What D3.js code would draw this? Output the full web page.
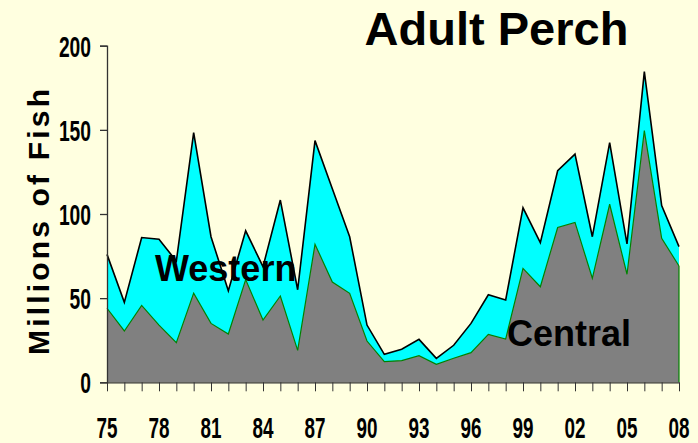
<!DOCTYPE html>
<html>
<head>
<meta charset="utf-8">
<script src="https://cdn.jsdelivr.net/npm/d3@7"></script>
<style>
  body { margin:0; background:#FFFFE0; }
  svg { display:block; }
  .num { font-family:"Liberation Sans Narrow","Arial Narrow",sans-serif; font-weight:bold; font-size:30px; fill:#000; }
  .big { font-family:"Liberation Sans",Arial,sans-serif; font-weight:bold; fill:#000; }
</style>
</head>
<body>
<div id="chart"></div>
<script>
// years 1975..2008
var years = d3.range(1975, 2009);
// millions of fish
var central = [44,30.5,45.7,34,23.5,53,35,28.7,61,37,51.3,19,82,59.6,52.9,24.5,12.3,12.9,15.8,10.7,14.3,17.6,28.5,25.7,67.7,56.8,92,95,61.8,105.8,64.2,149.5,85.6,69.1];
var western = [32,17,40.3,51,48.5,95.3,51.5,25.7,29,31.7,57,36,61.6,55.4,33.6,9.5,4.3,6.7,9.7,3.5,7.7,17.4,23.5,23.2,36,26.2,33.7,40.6,24.7,36.6,18,35.1,19.4,11.5];
var yTicks = [0,50,100,150,200];
var xLabelYears = d3.range(1975, 2009, 3);

var W = 698, H = 443;
var svg = d3.select("#chart").append("svg")
  .attr("width", W).attr("height", H);
svg.append("rect").attr("width", W).attr("height", H).attr("fill", "#FFFFE0");

var x = d3.scaleLinear().domain([1975, 2008]).range([107, 679]);
var y = d3.scaleLinear().domain([0, 200]).range([382.3, 45.7]);

var rows = years.map(function(yr, i){ return {year:yr, central:central[i], western:western[i]}; });
var stack = d3.stack().keys(["central","western"])(rows);

var area = d3.area()
  .x(function(d){ return x(d.data.year); })
  .y0(function(d){ return y(d[0]); })
  .y1(function(d){ return y(d[1]); });
var topLine = d3.line()
  .x(function(d){ return x(d.data.year); })
  .y(function(d){ return y(d[1]); });

var g = svg.append("g");
g.append("path").datum(stack[1]).attr("d", area).attr("fill", "#00FFFF");
g.append("path").datum(stack[0]).attr("d", area).attr("fill", "#808080");
g.append("path").datum(stack[0]).attr("d", topLine).attr("fill", "none")
  .attr("stroke", "#008000").attr("stroke-width", 1.2);
g.append("line").attr("x1", x(2008)).attr("x2", x(2008))
  .attr("y1", y(0)).attr("y2", y(central[central.length-1]))
  .attr("stroke", "#008000").attr("stroke-width", 1.2);
g.append("path").datum(stack[1]).attr("d", topLine).attr("fill", "none")
  .attr("stroke", "#000").attr("stroke-width", 1.6).attr("stroke-linejoin", "miter");

// y axis
var yAxis = svg.append("g").attr("transform", "translate(107,0)")
  .call(d3.axisLeft(y).tickValues(yTicks).tickSize(7).tickPadding(0).tickFormat(""));
yAxis.select(".domain").attr("stroke", "#333").attr("stroke-width", 1.3);
yAxis.selectAll(".tick line").attr("stroke", "#333").attr("stroke-width", 1.3);
svg.selectAll(".ylab").data(yTicks).enter().append("text")
  .attr("class", "num")
  .attr("x", 91).attr("y", function(d){ return y(d) + 11; })
  .attr("text-anchor", "end")
  .attr("textLength", function(d){ return String(d).length * 10.7; })
  .attr("lengthAdjust", "spacingAndGlyphs")
  .text(function(d){ return d; });

// x axis
var xAxis = svg.append("g").attr("transform", "translate(0," + y(0) + ")")
  .call(d3.axisBottom(x).tickValues(years).tickSize(9).tickSizeOuter(0).tickFormat(""));
xAxis.select(".domain").attr("stroke", "#333").attr("stroke-width", 1.3);
xAxis.selectAll(".tick line").attr("stroke", "#333").attr("stroke-width", 1);
svg.selectAll(".xlab").data(xLabelYears).enter().append("text")
  .attr("class", "num")
  .attr("x", function(d){ return x(d); }).attr("y", 438)
  .attr("text-anchor", "middle")
  .attr("textLength", 21)
  .attr("lengthAdjust", "spacingAndGlyphs")
  .text(function(d){ return String(d % 100).padStart(2, "0"); });

// axis title
svg.append("text").attr("class", "big")
  .attr("transform", "translate(49,222) rotate(-90)")
  .attr("text-anchor", "middle")
  .attr("font-size", 30)
  .attr("textLength", 266)
  .attr("lengthAdjust", "spacing")
  .text("Millions of Fish");

// title
svg.append("text").attr("class", "big")
  .attr("x", 496.5).attr("y", 45)
  .attr("text-anchor", "middle")
  .attr("font-size", 47)
  .text("Adult Perch");

// region labels
svg.append("text").attr("class", "big")
  .attr("x", 155).attr("y", 281).attr("font-size", 36).text("Western");
svg.append("text").attr("class", "big")
  .attr("x", 507).attr("y", 346).attr("font-size", 36).text("Central");
</script>
</body>
</html>
